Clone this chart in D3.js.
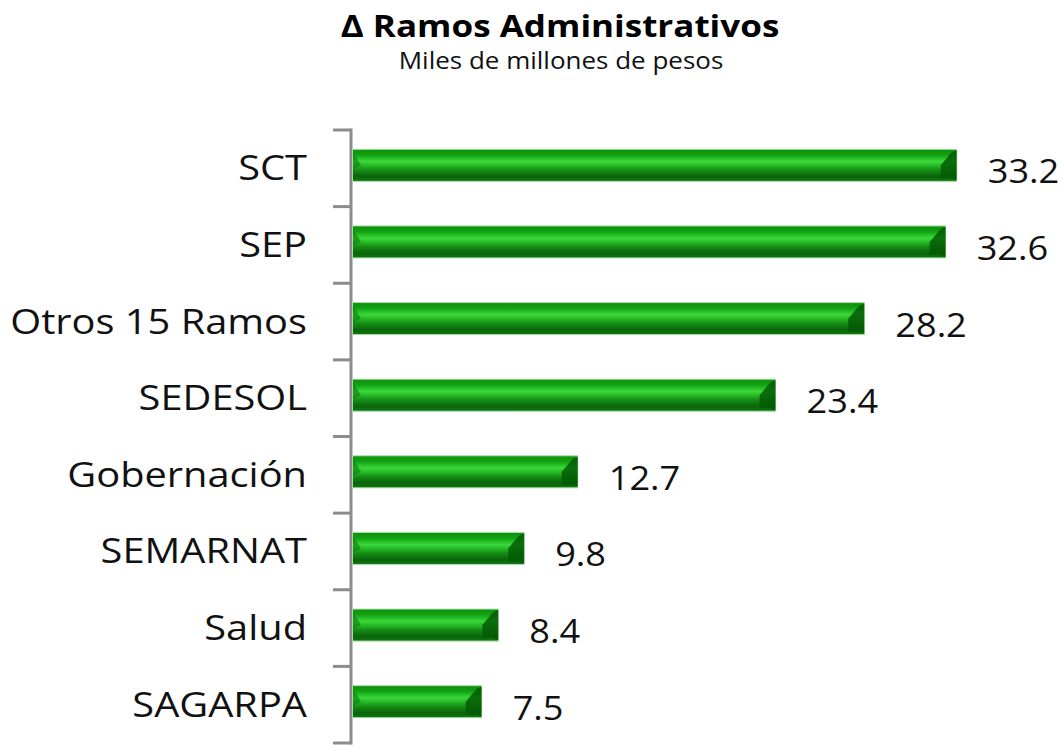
<!DOCTYPE html>
<html>
<head>
<meta charset="utf-8">
<title>Ramos Administrativos</title>
<style>
  body { margin: 0; background: #fff; }
  svg { display: block; }
  .title { font-family: "Open Sans", sans-serif; font-weight: bold; font-size: 31px; fill: #000; }
  .subtitle { font-family: "Open Sans", sans-serif; font-size: 23px; fill: #111; }
  .cat { font-family: "Open Sans", sans-serif; font-size: 34px; fill: #111; }
  .val { font-family: "Open Sans", sans-serif; font-size: 32px; fill: #111; }
</style>
</head>
<body>
<script src="https://d3js.org/d3.v7.min.js"></script>
<script>
// data
var categories = ["SCT", "SEP", "Otros 15 Ramos", "SEDESOL", "Gobernación", "SEMARNAT", "Salud", "SAGARPA"];
var values = [33.2, 32.6, 28.2, 23.4, 12.7, 9.8, 8.4, 7.5];
var title = "\u0394 Ramos Administrativos";
var subtitle = "Miles de millones de pesos";

var W = 1062, H = 745;
var stretch = 1.13;   // text in the original is a bit wide
var axisX = 351;

var svg = d3.select("body").append("svg")
    .attr("width", W)
    .attr("height", H);

svg.append("rect").attr("width", W).attr("height", H).attr("fill", "#fff");

var defs = svg.append("defs");
var grad = defs.append("linearGradient")
    .attr("id", "barGrad")
    .attr("x1", 0).attr("y1", 0).attr("x2", 0).attr("y2", 1);
[[0, "#0b900b"], [0.18, "#12a212"], [0.38, "#3ad83a"], [0.5, "#28bb28"],
 [0.65, "#148d14"], [0.85, "#0b640b"], [1, "#0e760e"]].forEach(function(s) {
    grad.append("stop").attr("offset", s[0]).attr("stop-color", s[1]);
});

var x = d3.scaleLinear().domain([0, 35]).range([343, 990]);
var y = d3.scaleBand().domain(categories).range([130, 743]).padding(0);
var barH = 32;

// title
svg.append("text")
    .attr("class", "title")
    .attr("text-anchor", "middle")
    .attr("transform", "translate(560,37) scale(" + stretch + ",1)")
    .text(title);
svg.append("text")
    .attr("class", "subtitle")
    .attr("text-anchor", "middle")
    .attr("transform", "translate(561,69) scale(" + stretch + ",1)")
    .text(subtitle);

// axis: line + ticks at band boundaries
var axis = svg.append("g");
axis.append("line")
    .attr("x1", axisX).attr("x2", axisX)
    .attr("y1", y.range()[0] - 1.5).attr("y2", y.range()[1] + 1.5)
    .attr("stroke", "#8c8c8c").attr("stroke-width", 3);
var bounds = categories.map(function(c) { return y(c); }).concat([y.range()[1]]);
axis.selectAll(".tick")
    .data(bounds)
    .enter().append("line")
    .attr("x1", 333).attr("x2", axisX)
    .attr("y1", function(d) { return d; })
    .attr("y2", function(d) { return d; })
    .attr("stroke", "#8c8c8c").attr("stroke-width", 3);

// category labels
svg.selectAll(".cat")
    .data(categories)
    .enter().append("text")
    .attr("class", "cat")
    .attr("text-anchor", "end")
    .attr("transform", function(d) {
        return "translate(307," + (y(d) + y.bandwidth() / 2 + 12) + ") scale(1.17,1)";
    })
    .text(function(d) { return d; });

// bars
var rows = categories.map(function(c, i) { return { cat: c, v: values[i] }; });
var bar = svg.selectAll(".bar")
    .data(rows)
    .enter().append("g")
    .attr("class", "bar");

function barTop(d) { return y(d.cat) + (y.bandwidth() - barH) / 2 - 3; }

bar.append("rect")
    .attr("x", axisX + 1.5)
    .attr("y", barTop)
    .attr("width", function(d) { return x(d.v) - axisX - 1.5; })
    .attr("height", barH)
    .attr("fill", "url(#barGrad)")
    .attr("stroke", "#a9dca9")
    .attr("stroke-width", 1);

// bevel at the right end
bar.append("polygon")
    .attr("points", function(d) {
        var e = x(d.v), t = barTop(d), b = t + barH, m = t + barH / 2;
        return [[e - 16, m], [e - 5, t + 3], [e, t + 1], [e, b - 1], [e - 5, b - 3], [e - 16, b - 3]]
            .map(function(p) { return p.join(","); }).join(" ");
    })
    .attr("fill", "#045a04")
    .attr("opacity", 0.85);

// small bevel at the left end
bar.append("polygon")
    .attr("points", function(d) {
        var s = axisX + 2, t = barTop(d), m = t + barH / 2;
        return [[s, t + 3], [s + 8, m], [s, m + 4]].map(function(p) { return p.join(","); }).join(" ");
    })
    .attr("fill", "#0d7a0d")
    .attr("opacity", 0.6);

// value labels
bar.append("text")
    .attr("class", "val")
    .attr("transform", function(d) {
        return "translate(" + (x(d.v) + 31) + "," + (y(d.cat) + y.bandwidth() / 2 + 15) + ") scale(" + stretch + ",1)";
    })
    .text(function(d) { return d3.format(".1f")(d.v); });
</script>
</body>
</html>
